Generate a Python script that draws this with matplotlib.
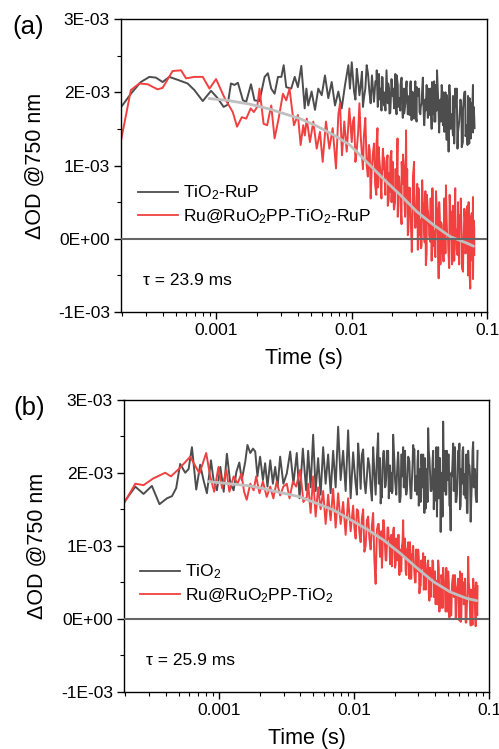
import numpy as np
import matplotlib
matplotlib.use('Agg')
import matplotlib.pyplot as plt
from matplotlib.ticker import LogLocator, MultipleLocator, NullFormatter

plt.rcParams['font.family'] = ['Liberation Sans', 'DejaVu Sans']
plt.rcParams['mathtext.default'] = 'regular'

# --- data (time in s, dOD in units of 1E-03) ---
t_a_grey = [1.96e-4, 2.33e-4, 2.76e-4, 3.19e-4, 3.57e-4, 4.00e-4, 4.48e-4, 5.17e-4, 6.12e-4, 6.87e-4,
            7.92e-4, 9.12e-4, 1.02e-3, 1.13e-3, 1.21e-3, 1.28e-3, 1.36e-3, 1.44e-3, 1.57e-3, 1.66e-3,
            1.80e-3, 1.91e-3, 2.08e-3, 2.27e-3, 2.40e-3, 2.54e-3, 2.69e-3, 2.85e-3, 3.02e-3, 3.14e-3,
            3.28e-3, 3.57e-3, 3.79e-3, 4.00e-3, 4.24e-3, 4.49e-3,
            4.62e-3, 4.77e-3, 5.05e-3, 5.35e-3, 5.66e-3, 6.00e-3, 6.34e-3, 6.71e-3, 7.11e-3, 7.52e-3,
            7.96e-3, 8.43e-3, 8.92e-3, 9.44e-3, 9.70e-3, 1.00e-2, 1.04e-2, 1.09e-2, 1.14e-2, 1.19e-2,
            1.23e-2, 1.29e-2, 1.35e-2, 1.41e-2, 1.46e-2, 1.53e-2, 1.60e-2, 1.67e-2, 1.73e-2, 1.82e-2,
            1.90e-2, 1.98e-2, 2.06e-2, 2.15e-2, 2.25e-2, 2.34e-2, 2.44e-2, 2.55e-2, 2.67e-2, 2.78e-2,
            2.89e-2, 3.03e-2, 3.17e-2, 3.30e-2, 3.44e-2, 3.60e-2, 3.76e-2, 3.92e-2, 4.07e-2, 4.27e-2,
            4.46e-2, 4.65e-2, 4.83e-2, 5.06e-2, 5.20e-2, 5.34e-2, 5.60e-2, 5.82e-2, 6.05e-2, 6.33e-2,
            6.63e-2, 6.90e-2, 7.18e-2, 7.43e-2, 7.60e-2, 7.87e-2, 8.09e-2]
od_a_grey = [1.79, 1.98, 2.14, 2.21, 2.20, 2.14, 2.21, 2.17, 2.12, 2.03,
             1.88, 2.02, 1.92, 1.80, 1.83, 2.12, 2.10, 2.13, 1.89, 1.87,
             2.11, 1.89, 1.88, 2.21, 2.26, 2.05, 1.98, 2.21, 2.21, 2.37,
             2.07, 2.05, 2.21, 2.07, 2.36, 1.78,
             2.05, 1.82, 2.01, 1.76, 2.05, 1.96, 2.23, 1.92, 2.14, 1.82,
             2.01, 1.78, 2.10, 2.37, 2.05, 2.41, 2.01, 2.32, 1.96, 2.28,
             1.92, 2.37, 2.01, 2.23, 1.87, 2.30, 1.96, 2.21, 1.82, 2.14,
             1.71, 2.10, 1.78, 2.23, 1.92, 2.17, 1.71, 2.05, 1.69, 2.01,
             1.64, 2.07, 1.73, 1.96, 1.55, 2.01, 1.69, 2.14, 1.60, 2.30,
             1.69, 2.05, 1.46, 1.96, 1.19, 1.92, 1.41, 2.05, 1.23, 1.82,
             1.32, 2.01, 1.28, 1.92, 1.37, 2.10, 1.51]
# extra samples read between the points above (dense tail)
t_a_grey_mid = [1.02e-2, 1.065e-2, 1.115e-2, 1.165e-2, 1.21e-2, 1.26e-2, 1.32e-2, 1.38e-2, 1.435e-2, 1.495e-2,
                1.565e-2, 1.635e-2, 1.70e-2, 1.775e-2, 1.86e-2, 1.94e-2, 2.02e-2, 2.105e-2, 2.20e-2, 2.295e-2,
                2.39e-2, 2.495e-2, 2.61e-2, 2.725e-2, 2.835e-2, 2.96e-2, 3.10e-2, 3.235e-2, 3.37e-2, 3.52e-2,
                3.68e-2, 3.84e-2, 3.995e-2, 4.17e-2, 4.365e-2, 4.555e-2, 4.74e-2, 4.945e-2, 5.13e-2, 5.27e-2,
                5.47e-2, 5.71e-2, 5.935e-2, 6.19e-2, 6.48e-2, 6.765e-2, 7.04e-2, 7.305e-2, 7.515e-2, 7.735e-2,
                7.98e-2]
od_a_grey_mid = [2.20, 1.90, 2.15, 2.10, 1.80, 2.05, 2.25, 1.85, 2.05, 2.15,
                 1.82, 2.05, 2.00, 1.75, 2.12, 1.85, 2.05, 1.95, 1.80, 2.10,
                 1.85, 1.95, 1.80, 2.15, 1.85, 1.70, 2.00, 1.80, 1.95, 1.75,
                 2.05, 1.85, 1.70, 2.10, 1.85, 1.60, 2.00, 1.75, 1.55, 2.10,
                 1.70, 1.60, 1.95, 1.55, 1.75, 1.95, 1.45, 1.70, 1.85, 1.60,
                 1.80]

t_a_red = [1.96e-4, 2.33e-4, 2.69e-4, 3.10e-4, 3.67e-4, 4.00e-4, 4.74e-4, 5.47e-4, 5.96e-4, 6.87e-4,
           7.92e-4, 8.88e-4, 9.93e-4, 1.15e-3, 1.32e-3, 1.42e-3, 1.54e-3, 1.66e-3, 1.79e-3, 1.89e-3,
           2.00e-3, 2.08e-3, 2.23e-3, 2.37e-3, 2.54e-3, 2.69e-3, 2.88e-3, 3.10e-3, 3.28e-3, 3.47e-3,
           3.74e-3, 4.00e-3, 4.19e-3, 4.38e-3, 4.50e-3,
           4.65e-3, 4.91e-3, 5.20e-3, 5.51e-3, 5.82e-3, 6.10e-3, 6.45e-3, 6.83e-3, 7.23e-3, 7.65e-3,
           7.96e-3, 8.19e-3, 8.47e-3, 8.81e-3, 9.18e-3, 9.60e-3, 1.00e-2, 1.04e-2, 1.09e-2, 1.14e-2,
           1.19e-2, 1.23e-2, 1.29e-2, 1.34e-2, 1.38e-2, 1.43e-2, 1.49e-2, 1.55e-2, 1.62e-2, 1.70e-2,
           1.77e-2, 1.84e-2, 1.92e-2, 2.01e-2, 2.09e-2, 2.18e-2, 2.25e-2, 2.34e-2, 2.44e-2, 2.52e-2,
           2.62e-2, 2.70e-2, 2.78e-2, 2.89e-2, 2.99e-2, 3.11e-2, 3.24e-2, 3.39e-2, 3.53e-2, 3.66e-2,
           3.80e-2, 3.95e-2, 4.12e-2, 4.27e-2, 4.39e-2, 4.56e-2, 4.77e-2, 4.97e-2, 5.17e-2, 5.41e-2,
           5.60e-2, 5.82e-2, 6.05e-2, 6.27e-2, 6.53e-2, 6.79e-2, 7.03e-2, 7.31e-2, 7.52e-2, 7.74e-2,
           7.87e-2, 8.05e-2]
od_a_red = [1.32, 2.03, 2.12, 2.11, 2.04, 2.06, 2.29, 2.30, 2.19, 2.21,
            2.21, 2.05, 2.18, 1.92, 1.73, 1.53, 1.66, 1.64, 1.78, 1.73,
            1.80, 2.05, 1.57, 1.55, 1.82, 1.37, 1.64, 1.98, 1.89, 2.05,
            1.55, 1.69, 1.28, 1.55, 1.41,
            1.64, 1.32, 1.60, 1.23, 1.46, 1.05, 1.60, 1.23, 1.51, 0.96,
            1.69, 1.85, 1.14, 1.60, 1.19, 1.78, 1.32, 1.66, 1.23, 1.85,
            1.14, 1.41, 1.00, 1.28, 0.55, 1.14, 0.73, 1.51, 0.96, 1.23,
            0.78, 1.14, 0.64, 1.05, 0.50, 1.37, 0.78, 1.05, 0.60, 1.48,
            0.10, 0.69, -0.18, 1.05, 0.32, 0.69, -0.13, 0.46, -0.36, 0.37,
            -0.04, 0.69, -0.22, 0.41, -0.54, 0.23, -0.31, 0.73, -0.13, 0.37,
            -0.27, 0.69, -0.22, 0.32, -0.40, 0.41, -0.13, 0.50, -0.68, -0.04,
            0.57, -0.22]
t_a_red_mid = [1.02e-2, 1.065e-2, 1.115e-2, 1.165e-2, 1.21e-2, 1.26e-2, 1.315e-2, 1.36e-2, 1.405e-2, 1.46e-2,
               1.52e-2, 1.585e-2, 1.66e-2, 1.735e-2, 1.805e-2, 1.88e-2, 1.965e-2, 2.05e-2, 2.135e-2, 2.215e-2,
               2.295e-2, 2.39e-2, 2.48e-2, 2.57e-2, 2.66e-2, 2.74e-2, 2.835e-2, 2.94e-2, 3.05e-2, 3.175e-2,
               3.315e-2, 3.46e-2, 3.595e-2, 3.73e-2, 3.875e-2, 4.035e-2, 4.195e-2, 4.33e-2, 4.475e-2, 4.665e-2,
               4.87e-2, 5.07e-2, 5.29e-2, 5.505e-2, 5.71e-2, 5.935e-2, 6.16e-2, 6.40e-2, 6.66e-2, 6.91e-2,
               7.17e-2, 7.415e-2, 7.63e-2, 7.805e-2, 7.96e-2]
od_a_red_mid = [1.60, 1.05, 1.45, 1.40, 0.95, 1.65, 0.85, 1.20, 0.95, 1.30,
                0.60, 1.25, 0.70, 1.10, 0.95, 0.55, 1.20, 0.40, 0.95, 0.85,
                0.45, 1.15, 0.30, 0.95, 0.55, 0.15, 0.85, 0.20, 0.75, 0.05,
                0.80, -0.05, 0.60, 0.15, 0.55, -0.10, 0.65, 0.00, 0.30, -0.20,
                0.55, 0.05, 0.60, -0.35, 0.45, 0.10, -0.15, 0.55, -0.30, 0.20,
                0.45, -0.45, 0.30, -0.30, 0.25]

t_a_fit = [8.8e-4, 1.2e-3, 1.77e-3, 2.48e-3, 4.14e-3, 5.5e-3, 7.3e-3, 9.7e-3, 1.29e-2, 1.71e-2,
           2.28e-2, 3.03e-2, 4.02e-2, 5.34e-2, 7.11e-2, 7.94e-2]
od_a_fit = [1.915, 1.89, 1.837, 1.77, 1.64, 1.54, 1.42, 1.28, 1.05, 0.82,
            0.60, 0.37, 0.19, 0.03, -0.06, -0.10]

t_b_early_grey = [1.98e-4, 2.39e-4, 2.75e-4, 3.17e-4, 3.61e-4, 4.10e-4, 4.47e-4, 4.80e-4, 5.14e-4, 5.60e-4,
                  5.93e-4, 6.28e-4, 6.76e-4, 7.23e-4, 7.65e-4, 8.11e-4, 8.69e-4, 9.08e-4, 9.62e-4, 1.02e-3,
                  1.08e-3, 1.14e-3, 1.21e-3, 1.28e-3, 1.34e-3, 1.41e-3, 1.47e-3, 1.56e-3, 1.62e-3, 1.70e-3,
                  1.78e-3, 1.85e-3, 1.92e-3, 2.01e-3, 2.11e-3, 2.19e-3, 2.28e-3, 2.39e-3, 2.50e-3, 2.60e-3,
                  2.71e-3, 2.83e-3, 2.99e-3, 3.17e-3, 3.36e-3, 3.55e-3, 3.76e-3, 3.94e-3, 4.17e-3, 4.41e-3]
od_b_early_grey = [1.60, 1.81, 1.71, 1.82, 1.57, 1.65, 1.68, 1.79, 2.12, 2.00,
                   2.05, 2.35, 1.77, 2.11, 1.90, 1.72, 2.17, 1.90, 1.76, 2.08,
                   1.74, 2.26, 1.85, 1.76, 2.01, 2.14, 1.90, 2.15, 2.38, 2.27,
                   2.33, 2.29, 1.95, 2.22, 1.90, 2.13, 1.81, 2.17, 1.85, 2.08,
                   1.81, 2.22, 1.85, 1.99, 2.29, 1.85, 2.27, 1.65, 2.33, 1.76]

t_b_early_red = [1.98e-4, 2.39e-4, 2.75e-4, 3.23e-4, 3.98e-4, 4.39e-4, 5.08e-4, 6.10e-4, 7.14e-4, 8.01e-4,
                 8.58e-4, 9.18e-4, 9.88e-4, 1.05e-3, 1.13e-3, 1.19e-3, 1.28e-3, 1.37e-3, 1.46e-3, 1.53e-3,
                 1.60e-3, 1.70e-3, 1.80e-3, 1.88e-3, 1.99e-3, 2.11e-3, 2.25e-3, 2.39e-3, 2.52e-3, 2.67e-3,
                 2.83e-3, 2.99e-3, 3.17e-3, 3.32e-3, 3.52e-3, 3.72e-3, 3.98e-3, 4.21e-3, 4.46e-3]
od_b_early_red = [1.59, 1.85, 1.83, 1.92, 2.00, 1.95, 2.06, 2.22, 1.99, 2.27,
                  1.95, 1.74, 2.08, 1.79, 2.04, 1.74, 1.95, 1.85, 1.99, 1.74,
                  1.63, 1.85, 1.76, 1.95, 1.72, 1.88, 1.67, 1.81, 1.65, 1.88,
                  1.69, 1.81, 1.85, 1.65, 1.88, 1.81, 2.04, 1.60, 1.67]

# shared late-time grid of panel (b)
t_b_late = [4.563e-3, 4.762e-3, 4.970e-3, 5.186e-3, 5.412e-3, 5.648e-3, 5.895e-3, 6.152e-3, 6.420e-3, 6.700e-3,
            6.992e-3, 7.297e-3, 7.615e-3, 7.947e-3, 8.293e-3, 8.655e-3, 9.032e-3, 9.426e-3, 9.837e-3, 1.0266e-2,
            1.0714e-2, 1.1181e-2, 1.1668e-2, 1.2177e-2, 1.2708e-2, 1.3262e-2, 1.3840e-2, 1.4443e-2, 1.5073e-2, 1.5730e-2,
            1.6416e-2, 1.7132e-2, 1.7879e-2, 1.8658e-2, 1.9472e-2, 2.0321e-2, 2.1207e-2, 2.2131e-2, 2.3096e-2, 2.4103e-2,
            2.5154e-2, 2.6251e-2, 2.7396e-2, 2.8590e-2, 2.9837e-2, 3.1138e-2, 3.2495e-2, 3.3912e-2, 3.5391e-2, 3.6934e-2,
            3.8544e-2, 4.0225e-2, 4.1979e-2, 4.3809e-2, 4.5719e-2, 4.7713e-2, 4.9793e-2, 5.1964e-2, 5.4229e-2, 5.6594e-2,
            5.9061e-2, 6.1636e-2, 6.4323e-2, 6.7128e-2, 7.0055e-2, 7.3109e-2, 7.6297e-2, 7.9623e-2, 8.22e-2]
od_b_late_grey = [2.30, 1.80, 2.52, 1.75, 2.20, 1.70, 2.35, 1.85, 2.25, 1.72,
                  2.30, 1.80, 2.63, 1.90, 2.30, 1.75, 2.58, 1.65, 2.28, 1.85,
                  2.40, 1.78, 2.32, 1.72, 2.20, 1.80, 2.35, 1.70, 2.54, 1.58,
                  2.25, 1.82, 2.30, 1.75, 2.52, 1.80, 2.28, 1.68, 2.35, 1.78,
                  2.22, 1.65, 2.38, 1.80, 2.30, 1.60, 2.25, 1.51, 2.61, 1.75,
                  2.30, 1.62, 2.35, 1.19, 2.70, 1.70, 2.25, 1.21, 2.40, 1.60,
                  2.30, 1.55, 2.35, 1.65, 2.30, 1.33, 2.42, 1.70, 2.30]
od_b_late_red = [1.85, 1.45, 1.95, 1.40, 1.80, 1.50, 1.75, 1.30, 1.70, 1.35,
                 1.78, 1.25, 1.72, 1.30, 1.60, 1.15, 1.65, 1.20, 1.55, 1.10,
                 1.48, 1.05, 1.50, 1.00, 1.40, 0.95, 1.45, 0.48, 1.30, 0.90,
                 1.35, 0.80, 1.25, 0.85, 1.20, 0.75, 1.15, 0.70, 1.35, 0.65,
                 1.05, 0.55, 1.00, 0.50, 0.95, 0.45, 0.90, 0.40, 0.80, 0.30,
                 0.75, 0.20, 0.80, 0.15, 0.70, 0.10, 0.65, 0.05, 0.60, 0.00,
                 0.55, -0.04, 0.50, -0.05, 0.85, -0.09, 0.55, -0.10, 0.45]
# extra samples read between the grid points (dense tail)
t_b_mid = [1.0049e-2, 1.0488e-2, 1.0945e-2, 1.1423e-2, 1.1920e-2, 1.2440e-2, 1.2982e-2, 1.3548e-2, 1.4139e-2, 1.4755e-2,
           1.5399e-2, 1.6070e-2, 1.6771e-2, 1.7502e-2, 1.8265e-2, 1.9061e-2, 1.9893e-2, 2.0760e-2, 2.1665e-2, 2.2609e-2,
           2.3595e-2, 2.4624e-2, 2.5697e-2, 2.6818e-2, 2.7988e-2, 2.9208e-2, 3.0481e-2, 3.1811e-2, 3.3197e-2, 3.4645e-2,
           3.6155e-2, 3.7732e-2, 3.9377e-2, 4.1094e-2, 4.2886e-2, 4.4755e-2, 4.6707e-2, 4.8744e-2, 5.0869e-2, 5.3086e-2,
           5.5400e-2, 5.7816e-2, 6.0337e-2, 6.2967e-2, 6.5712e-2, 6.8578e-2, 7.1568e-2, 7.4688e-2, 7.7945e-2, 8.1343e-2]
od_b_mid_grey = [2.05, 1.70, 2.15, 2.25, 1.88, 1.95, 2.10, 1.62, 2.00, 2.20,
                 1.90, 1.66, 2.12, 2.30, 1.85, 1.72, 2.15, 1.95, 1.60, 2.25,
                 2.05, 1.75, 2.15, 1.90, 2.32, 1.70, 1.95, 2.10, 1.45, 2.05,
                 2.20, 1.80, 1.92, 1.40, 2.20, 2.00, 1.75, 2.30, 1.55, 1.95,
                 2.15, 1.70, 2.40, 1.85, 1.98, 1.45, 2.10, 1.90, 2.00, 1.60]
od_b_mid_red = [1.25, 1.50, 1.18, 1.38, 0.92, 1.35, 1.10, 1.28, 0.80, 1.22,
                1.05, 0.70, 1.18, 1.00, 1.10, 0.72, 1.05, 0.92, 0.60, 1.00,
                0.85, 0.95, 0.55, 0.88, 0.62, 0.78, 0.35, 0.70, 0.55, 0.60,
                0.25, 0.62, 0.45, 0.52, 0.10, 0.55, 0.40, 0.48, 0.02, 0.45,
                0.35, 0.42, -0.02, 0.62, 0.30, 0.20, 0.40, 0.05, 0.35, 0.15]

# further samples in the densest part of every trace (t > 15 ms)
t_tail = [1.524e-2, 1.556e-2, 1.590e-2, 1.624e-2, 1.659e-2, 1.695e-2, 1.732e-2, 1.769e-2, 1.807e-2, 1.846e-2,
          1.886e-2, 1.927e-2, 1.968e-2, 2.011e-2, 2.054e-2, 2.098e-2, 2.144e-2, 2.190e-2, 2.237e-2, 2.285e-2,
          2.335e-2, 2.385e-2, 2.436e-2, 2.489e-2, 2.543e-2, 2.597e-2, 2.653e-2, 2.711e-2, 2.769e-2, 2.829e-2,
          2.890e-2, 2.952e-2, 3.016e-2, 3.081e-2, 3.147e-2, 3.215e-2, 3.285e-2, 3.355e-2, 3.428e-2, 3.502e-2,
          3.577e-2, 3.654e-2, 3.733e-2, 3.814e-2, 3.896e-2, 3.980e-2, 4.066e-2, 4.154e-2, 4.243e-2, 4.335e-2,
          4.428e-2, 4.524e-2, 4.621e-2, 4.721e-2, 4.823e-2, 4.927e-2, 5.033e-2, 5.142e-2, 5.252e-2, 5.366e-2,
          5.481e-2, 5.600e-2, 5.720e-2, 5.844e-2, 5.970e-2, 6.099e-2, 6.230e-2, 6.364e-2, 6.502e-2, 6.642e-2,
          6.785e-2, 6.932e-2, 7.081e-2, 7.234e-2, 7.390e-2, 7.549e-2, 7.712e-2, 7.878e-2, 8.048e-2, 8.177e-2]
od_a_grey_tail = [2.15, 1.80, 2.25, 1.90, 1.75, 2.20, 2.00, 1.78, 2.30, 1.85,
                  2.05, 1.72, 2.18, 1.95, 1.80, 2.25, 1.70, 2.10, 1.90, 1.75,
                  2.20, 1.65, 2.05, 1.85, 2.15, 1.70, 1.95, 2.10, 1.62, 2.00,
                  1.80, 2.15, 1.60, 1.95, 2.05, 1.70, 1.85, 2.20, 1.55, 1.90,
                  2.10, 1.65, 1.80, 2.05, 1.50, 1.95, 2.15, 1.60, 1.75, 2.00,
                  1.45, 1.90, 2.10, 1.55, 1.70, 2.00, 1.35, 1.85, 2.05, 1.50,
                  1.65, 1.95, 1.30, 1.80, 2.05, 1.45, 1.60, 1.90, 1.25, 1.75,
                  2.00, 1.40, 1.55, 1.95, 1.30, 1.70, 1.85, 1.45, 1.65, 1.90]
od_a_red_tail = [1.30, 0.70, 1.15, 0.85, 0.55, 1.20, 0.95, 0.60, 1.05, 0.45,
                 0.90, 1.10, 0.50, 0.80, 0.40, 0.95, 0.65, 0.30, 0.85, 0.55,
                 0.20, 0.75, 0.95, 0.35, 0.60, 0.05, 0.70, 0.40, -0.05, 0.55,
                 0.80, 0.15, 0.45, -0.15, 0.60, 0.25, -0.10, 0.50, 0.10, 0.65,
                 -0.20, 0.35, 0.05, 0.55, -0.30, 0.30, 0.10, -0.25, 0.45, 0.00,
                 0.50, -0.35, 0.20, -0.10, 0.55, -0.20, 0.25, 0.05, -0.40, 0.35,
                 -0.10, 0.45, -0.30, 0.15, -0.15, 0.50, -0.35, 0.20, 0.00, -0.45,
                 0.30, -0.20, 0.40, -0.50, 0.10, -0.25, 0.35, -0.55, 0.15, -0.30]
od_b_grey_tail = [1.85, 2.20, 1.70, 2.05, 2.30, 1.80, 1.95, 2.25, 1.65, 2.10,
                  2.00, 1.75, 2.35, 1.90, 1.70, 2.15, 2.05, 1.60, 2.25, 1.95,
                  1.80, 2.30, 1.70, 2.00, 2.20, 1.85, 1.65, 2.10, 2.30, 1.75,
                  1.95, 2.15, 1.55, 2.05, 2.25, 1.80, 1.70, 2.20, 1.90, 1.60,
                  2.30, 2.00, 1.75, 2.15, 1.50, 2.05, 2.35, 1.85, 1.65, 2.20,
                  1.95, 1.40, 2.10, 2.30, 1.70, 1.90, 2.25, 1.55, 2.00, 2.15,
                  1.75, 2.35, 1.60, 1.95, 2.20, 1.50, 2.05, 2.30, 1.70, 1.85,
                  2.25, 1.45, 2.10, 1.95, 1.65, 2.30, 1.80, 2.05, 1.60, 2.10]
od_b_red_tail = [1.30, 0.85, 1.20, 0.90, 1.35, 1.00, 0.80, 1.25, 1.10, 0.75,
                 1.15, 0.95, 1.25, 0.70, 1.10, 0.80, 1.15, 0.95, 0.65, 1.05,
                 0.85, 1.10, 0.60, 0.95, 0.75, 1.05, 0.55, 0.90, 0.80, 0.50,
                 0.95, 0.65, 0.85, 0.45, 0.80, 0.70, 0.40, 0.85, 0.60, 0.75,
                 0.35, 0.70, 0.55, 0.80, 0.30, 0.65, 0.50, 0.20, 0.70, 0.45,
                 0.60, 0.15, 0.55, 0.40, 0.70, 0.10, 0.50, 0.35, 0.05, 0.55,
                 0.30, 0.60, 0.05, 0.45, 0.25, 0.65, 0.00, 0.40, 0.20, 0.55,
                 -0.05, 0.35, 0.50, 0.10, 0.40, -0.08, 0.45, 0.15, 0.50, 0.05]

t_b_fit = [8.3e-4, 1.7e-3, 3.98e-3, 7.03e-3, 1.24e-2, 1.65e-2, 2.19e-2, 2.91e-2, 3.87e-2, 5.14e-2,
           6.84e-2, 8.1e-2]
od_b_fit = [1.88, 1.82, 1.67, 1.49, 1.23, 1.08, 0.90, 0.70, 0.51, 0.37,
            0.28, 0.25]

labels_a = ['TiO$_2$-RuP', 'Ru@RuO$_2$PP-TiO$_2$-RuP']
labels_b = ['TiO$_2$', 'Ru@RuO$_2$PP-TiO$_2$']
tau_a = '\u03c4 = 23.9 ms'
tau_b = '\u03c4 = 25.9 ms'

ytick_values = [-1e-3, 0.0, 1e-3, 2e-3, 3e-3]
ytick_labels = ['-1E-03', '0E+00', '1E-03', '2E-03', '3E-03']
xtick_values = [1e-3, 1e-2, 1e-1]
xtick_labels = ['0.001', '0.01', '0.1']

GREY = '#4d4d4d'
RED = '#f04040'
FIT = '#c0c0c0'


def merged(*pairs):
    t = np.concatenate([np.asarray(p[0], float) for p in pairs])
    v = np.concatenate([np.asarray(p[1], float) for p in pairs])
    order = np.argsort(t, kind='stable')
    return t[order], v[order] * 1e-3


def draw_panel(ax, grey, red, fit, labels, tau, leg_xy, ylab_x):
    ax.plot(*grey, color=GREY, lw=1.4, label=labels[0])
    ax.plot(*red, color=RED, lw=1.4, label=labels[1])
    ax.plot(fit[0], np.array(fit[1]) * 1e-3, color=FIT, lw=2.0, solid_capstyle='round')
    ax.axhline(0.0, color='#666666', lw=1.5, zorder=5)

    ax.set_xscale('log')
    ax.set_xlim(1.97e-4, 0.1)
    ax.set_ylim(-1e-3, 3e-3)
    ax.set_yticks(ytick_values)
    ax.set_yticklabels(ytick_labels)
    ax.yaxis.set_minor_locator(MultipleLocator(0.5e-3))
    ax.set_xticks(xtick_values)
    ax.set_xticklabels(xtick_labels)
    ax.xaxis.set_minor_locator(LogLocator(base=10, subs=np.arange(2, 10)))
    ax.xaxis.set_minor_formatter(NullFormatter())
    ax.tick_params(which='both', direction='out', top=False, right=False, labelsize=12.5)
    ax.tick_params(which='major', length=5, width=1, pad=3)
    ax.tick_params(which='minor', length=3, width=0.8)
    for sp in ax.spines.values():
        sp.set_linewidth(1.0)

    ax.set_xlabel('Time (s)', fontsize=15.5)
    ax.xaxis.set_label_coords(0.5, -0.123)
    ax.set_ylabel('\u0394OD @750 nm', fontsize=15.5)
    ax.yaxis.set_label_coords(ylab_x, 0.5)

    leg = ax.legend(loc='upper left', bbox_to_anchor=leg_xy, frameon=False, fontsize=12.5,
                    handlelength=2.3, handletextpad=0.3, labelspacing=0.3,
                    borderaxespad=0, borderpad=0)
    for line in leg.get_lines():
        line.set_linewidth(1.3)
    ax.text(0.06, 0.109, tau, transform=ax.transAxes, va='center', ha='left', fontsize=12.5)


fig = plt.figure(figsize=(4.99, 7.49), dpi=100)
ax_a = fig.add_axes([0.2425, 0.5834, 0.7335, 0.3912])
ax_b = fig.add_axes([0.2485, 0.0761, 0.7315, 0.3903])

draw_panel(ax_a,
           merged((t_a_grey, od_a_grey), (t_a_grey_mid, od_a_grey_mid), (t_tail[:-1], od_a_grey_tail[:-1])),
           merged((t_a_red, od_a_red), (t_a_red_mid, od_a_red_mid), (t_tail[:-1], od_a_red_tail[:-1])),
           (t_a_fit, od_a_fit), labels_a, tau_a, (0.046, 0.438), -0.206)
draw_panel(ax_b,
           merged((t_b_early_grey + t_b_late, od_b_early_grey + od_b_late_grey),
                  (t_b_mid, od_b_mid_grey), (t_tail, od_b_grey_tail)),
           merged((t_b_early_red + t_b_late, od_b_early_red + od_b_late_red),
                  (t_b_mid, od_b_mid_red), (t_tail, od_b_red_tail)),
           (t_b_fit, od_b_fit), labels_b, tau_b, (0.044, 0.442), -0.209)

fig.text(28 / 499, 1 - 27 / 749, '(a)', ha='center', va='center', fontsize=18.5)
fig.text(29 / 499, 1 - 408 / 749, '(b)', ha='center', va='center', fontsize=18.5)

fig.savefig('out.png', dpi=100)
plt.close(fig)
